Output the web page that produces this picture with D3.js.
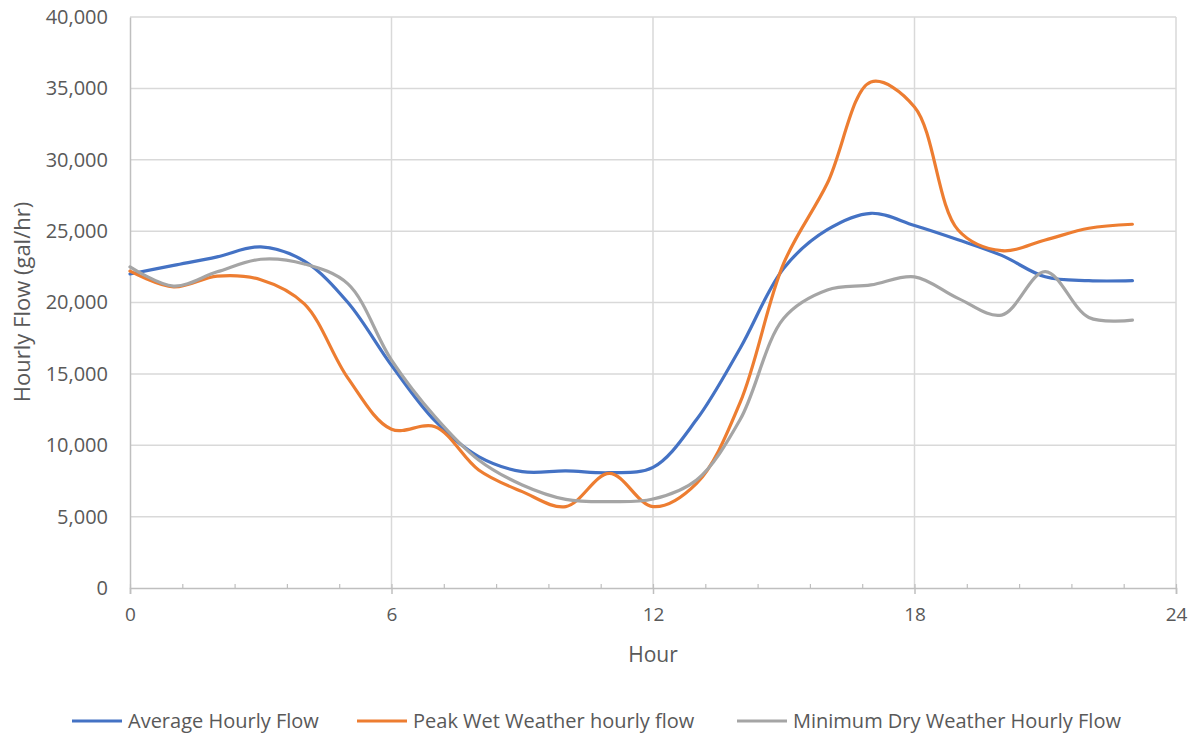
<!DOCTYPE html>
<html><head><meta charset="utf-8">
<script src="https://cdn.jsdelivr.net/npm/d3@7"></script>
<style>body{margin:0;background:#fff}svg{display:block}text{font-family:"Liberation Sans Narrow","Open Sans",sans-serif;fill:#595959}</style>
</head><body>
<svg id="c" width="1198" height="736"></svg>
<script>
const hours = [0,1,2,3,4,5,6,7,8,9,10,11,12,13,14,15,16,17,18,19,20,21,22,23];
const averageFlow = [22000,22600,23200,23900,22900,20000,15600,11700,9200,8150,8200,8080,8450,11800,16800,22400,25100,26250,25400,24400,23300,21800,21530,21530];
const peakWetFlow = [22200,21100,21850,21600,19900,14700,11120,11300,8270,6750,5700,8030,5700,7330,13000,22750,28350,35450,33700,25080,23630,24380,25200,25480];
const minDryFlow = [22500,21150,22150,23030,22700,21300,15970,12000,8970,7220,6210,6050,6230,7570,11800,18900,20880,21230,21800,20290,19120,22160,18950,18770];
const seriesNames = ["Average Hourly Flow","Peak Wet Weather hourly flow","Minimum Dry Weather Hourly Flow"];
const seriesColors = ["#4472C4","#ED7D31","#A5A5A5"];
const xTicks = [0,6,12,18,24];
const yTicks = [0,5000,10000,15000,20000,25000,30000,35000,40000];

const svg = d3.select("#c");
const L=130,R=1176,T=17,B=588;
const x = d3.scaleLinear().domain([0,24]).range([L,R]);
const y = d3.scaleLinear().domain([0,40000]).range([B,T]);

// gridlines
svg.append("g").selectAll("line").data(yTicks.filter(d=>d>0)).join("line")
  .attr("x1",L).attr("x2",R).attr("y1",d=>y(d)).attr("y2",d=>y(d))
  .attr("stroke","#d9d9d9").attr("stroke-width",1.5);
svg.append("g").selectAll("line").data(xTicks.filter(d=>d>0)).join("line")
  .attr("x1",d=>x(d)).attr("x2",d=>x(d)).attr("y1",T).attr("y2",B)
  .attr("stroke","#d9d9d9").attr("stroke-width",1.5);

// axes
const fmt = d3.format(",");
const yAxis = svg.append("g").attr("transform",`translate(${L},0)`)
  .call(d3.axisLeft(y).tickValues(yTicks).tickFormat(fmt).tickSize(0).tickPadding(22));
yAxis.select(".domain").attr("stroke","#bfbfbf").attr("stroke-width",1.5);
yAxis.selectAll("text").attr("font-size",20).attr("fill","#595959").style("font-family","'Open Sans',sans-serif");

const minor = d3.range(0,24.01,1.2);
const xMinor = svg.append("g").attr("transform",`translate(0,${B})`)
  .call(d3.axisBottom(x).tickValues(minor).tickSize(-4).tickFormat(""));
xMinor.select(".domain").remove();
xMinor.selectAll("line").attr("stroke","#bfbfbf").attr("stroke-width",1.2);
const xAxis = svg.append("g").attr("transform",`translate(0,${B})`)
  .call(d3.axisBottom(x).tickValues(xTicks).tickSize(6).tickPadding(14));
xAxis.select(".domain").attr("stroke","#bfbfbf").attr("stroke-width",1.5);
xAxis.selectAll("line").attr("stroke","#bfbfbf").attr("stroke-width",1.5);
xAxis.selectAll("text").attr("font-size",19).attr("fill","#595959");

// titles
svg.append("text").attr("x",653).attr("y",662).attr("text-anchor","middle")
  .attr("font-size",21).text("Hour");
svg.append("text").attr("transform","translate(30,302) rotate(-90)").attr("text-anchor","middle")
  .attr("font-size",22).style("font-family","'Open Sans',sans-serif").text("Hourly Flow (gal/hr)");

// lines
const allSeries = [averageFlow,peakWetFlow,minDryFlow];
const line = d3.line().x((d,i)=>x(hours[i])).y(d=>y(d)).curve(d3.curveCatmullRom.alpha(0.5));
svg.append("g").selectAll("path").data(allSeries).join("path")
  .attr("d",d=>line(d)).attr("fill","none")
  .attr("stroke",(d,i)=>seriesColors[i]).attr("stroke-width",3.2)
  .attr("stroke-linecap","round").attr("stroke-linejoin","round");

// legend
const legX = [72,357,737];
const lg = svg.append("g").selectAll("g").data(seriesNames).join("g")
  .attr("transform",(d,i)=>`translate(${legX[i]},721)`);
lg.append("line").attr("x1",0).attr("x2",50).attr("y1",0).attr("y2",0)
  .attr("stroke",(d,i)=>seriesColors[i]).attr("stroke-width",3.2);
lg.append("text").attr("x",56).attr("y",7).attr("font-size",20).text(d=>d);
</script>
</body></html>
